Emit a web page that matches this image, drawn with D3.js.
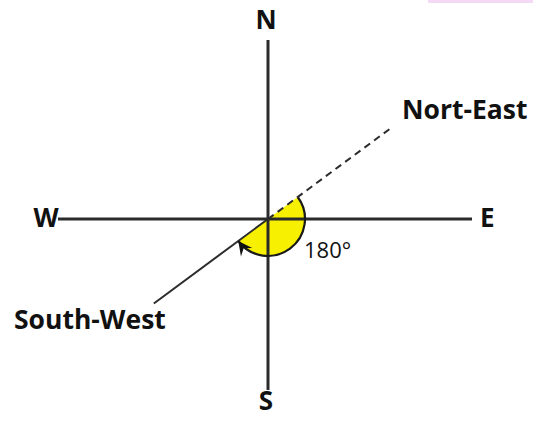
<!DOCTYPE html>
<html>
<head>
<meta charset="utf-8">
<script src="https://cdn.jsdelivr.net/npm/d3@7"></script>
<style>
  html, body { margin: 0; padding: 0; background: #fff; }
  svg { display: block; }
</style>
</head>
<body>
<div id="chart"></div>
<script>
// compass points (bearing in degrees, clockwise from north)
const pointLabels = ["N", "E", "S", "W"];
const pointBearings = [0, 90, 180, 270];

// the two directions of the turn
const dirLabels = ["Nort-East", "South-West"];
const dirBearings = [53.5, 233.5];

// the turn itself
const turnFrom = 53.5;
const turnAngle = 180;
const turnLabel = "180\u00b0";

const width = 533, height = 426;
const cx = 268, cy = 219;

const svg = d3.select("#chart").append("svg")
    .attr("width", width)
    .attr("height", height);

// faint highlight left over from the page above
svg.append("rect")
    .attr("x", 428).attr("y", 0)
    .attr("width", 105).attr("height", 3)
    .attr("fill", "#f3d9f3");

// arm length for each compass point
const armScale = d3.scaleOrdinal()
    .domain(pointLabels)
    .range([179, 204, 171, 210]);

const rad = b => (b - 90) * Math.PI / 180;
const px = (b, r) => cx + r * Math.cos(rad(b));
const py = (b, r) => cy + r * Math.sin(rad(b));

const g = svg.append("g");

// yellow half disc showing the turn
const arcR = 37;
const a0 = turnFrom * Math.PI / 180;
const a1 = (turnFrom + turnAngle) * Math.PI / 180;

g.append("path")
    .attr("transform", `translate(${cx},${cy})`)
    .attr("d", d3.arc().innerRadius(0).outerRadius(arcR).startAngle(a0).endAngle(a1)())
    .attr("fill", "#f7f000");

// axes
g.selectAll(".arm")
    .data(pointLabels)
    .join("line")
    .attr("class", "arm")
    .attr("x1", cx).attr("y1", cy)
    .attr("x2", (d, i) => px(pointBearings[i], armScale(d)))
    .attr("y2", (d, i) => py(pointBearings[i], armScale(d)))
    .attr("stroke", "#2b2b2b")
    .attr("stroke-width", 3);

// outline of the arc only
g.append("path")
    .attr("transform", `translate(${cx},${cy})`)
    .attr("d", d3.arc().innerRadius(arcR).outerRadius(arcR).startAngle(a0).endAngle(a1)())
    .attr("fill", "none")
    .attr("stroke", "#1a1a1a")
    .attr("stroke-width", 2.2);

// direction lines
const dirLen = [156, 142];
g.selectAll(".dir")
    .data(dirLabels)
    .join("line")
    .attr("class", "dir")
    .attr("x1", cx).attr("y1", cy)
    .attr("x2", (d, i) => px(dirBearings[i], dirLen[i]))
    .attr("y2", (d, i) => py(dirBearings[i], dirLen[i]))
    .attr("stroke", "#2b2b2b")
    .attr("stroke-width", 2)
    .attr("stroke-dasharray", (d, i) => i === 0 ? "7,5" : null);

// arrow head at end of the turn
const endB = turnFrom + turnAngle;
const tip = [px(endB, arcR), py(endB, arcR)];
const tang = rad(endB) + Math.PI / 2; // clockwise tangent
const ah = 14, aw = 7;
const back = [tip[0] - ah * Math.cos(tang), tip[1] - ah * Math.sin(tang)];
const nrm = tang + Math.PI / 2;
g.append("path")
    .attr("d", d3.line()([
        tip,
        [back[0] + aw * Math.cos(nrm), back[1] + aw * Math.sin(nrm)],
        [back[0] + 0.35 * ah * Math.cos(tang), back[1] + 0.35 * ah * Math.sin(tang)],
        [back[0] - aw * Math.cos(nrm), back[1] - aw * Math.sin(nrm)]
    ]) + "Z")
    .attr("fill", "#111");

// labels
const font = "'Open Sans', 'DejaVu Sans', sans-serif";
const pointPos = {
    N: [266, 29, "middle"],
    E: [480, 227, "start"],
    S: [266, 410, "middle"],
    W: [46, 227, "middle"]
};
g.selectAll(".plabel")
    .data(pointLabels)
    .join("text")
    .attr("class", "plabel")
    .attr("x", d => pointPos[d][0])
    .attr("y", d => pointPos[d][1])
    .attr("text-anchor", d => pointPos[d][2])
    .attr("font-family", font)
    .attr("font-weight", "bold")
    .attr("font-size", 26)
    .attr("fill", "#111")
    .text(d => d);

const dirPos = [[402, 119], [14, 329]];
g.selectAll(".dlabel")
    .data(dirLabels)
    .join("text")
    .attr("class", "dlabel")
    .attr("x", (d, i) => dirPos[i][0])
    .attr("y", (d, i) => dirPos[i][1])
    .attr("font-family", font)
    .attr("font-weight", "bold")
    .attr("font-size", 26.5)
    .attr("fill", "#111")
    .text(d => d);

g.append("text")
    .attr("x", 304)
    .attr("y", 258)
    .attr("font-family", font)
    .attr("font-size", 22)
    .attr("fill", "#111")
    .text(turnLabel);
</script>
</body>
</html>
